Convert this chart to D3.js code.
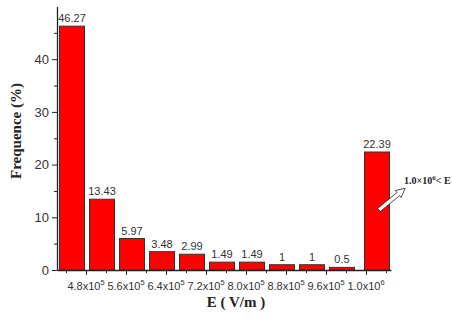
<!DOCTYPE html>
<html>
<head>
<meta charset="utf-8">
<script src="https://cdn.jsdelivr.net/npm/d3@7/dist/d3.min.js"></script>
<style>
  html, body { margin: 0; padding: 0; background: #fff; }
  svg { display: block; }
</style>
</head>
<body>
<svg id="chart" width="452" height="320"></svg>
<script>
// Field-strength bins (centre of each bin, in 10^5 V/m) and their share in percent
const binCenters = [4.52, 5.12, 5.72, 6.32, 6.92, 7.52, 8.12, 8.72, 9.32, 9.92, 10.62];
const frequence = [46.27, 13.43, 5.97, 3.48, 2.99, 1.49, 1.49, 1, 1, 0.5, 22.39];
const valueLabels = ["46.27", "13.43", "5.97", "3.48", "2.99", "1.49", "1.49", "1", "1", "0.5", "22.39"];

// Bottom axis labels: mantissa x 10^exponent
const xTickValues = [4.8, 5.6, 6.4, 7.2, 8.0, 8.8, 9.6, 10.4];
const xTickMantissa = ["4.8", "5.6", "6.4", "7.2", "8.0", "8.8", "9.6", "1.0"];
const xTickExponent = ["5", "5", "5", "5", "5", "5", "5", "6"];
const xMinorTicks = [4.4, 5.2, 6.0, 6.8, 7.6, 8.4, 9.2, 10.0, 10.8];

const yTickValues = [0, 10, 20, 30, 40];
const yMinorTicks = [5, 15, 25, 35, 45];

const svg = d3.select("#chart");

const x = d3.scaleLinear().domain([4.22, 10.9]).range([57, 391]);
const y = d3.scaleLinear().domain([0, 50]).range([270, 6.5]);
const binWidth = 0.5;

const axisColor = "#222";
const textColor = "#333";

// Bars
svg.append("g")
  .selectAll("rect")
  .data(frequence)
  .join("rect")
  .attr("x", (d, i) => x(binCenters[i] - binWidth / 2))
  .attr("width", (d, i) => x(binCenters[i] + binWidth / 2) - x(binCenters[i] - binWidth / 2))
  .attr("y", d => y(d))
  .attr("height", d => y(0) - y(d))
  .attr("fill", "#ff0000")
  .attr("stroke", "#333")
  .attr("stroke-width", 1);

// Value labels above the bars
svg.append("g")
  .selectAll("text")
  .data(frequence)
  .join("text")
  .attr("x", (d, i) => x(binCenters[i]))
  .attr("y", d => y(d) - 4)
  .attr("text-anchor", "middle")
  .attr("font-family", "Liberation Sans, Arial, sans-serif")
  .attr("font-size", 11)
  .attr("fill", textColor)
  .text((d, i) => valueLabels[i]);

// Y axis
const yAxis = svg.append("g")
  .attr("transform", `translate(${x.range()[0]},0)`)
  .call(d3.axisLeft(y).tickValues(yTickValues).tickSize(5).tickSizeOuter(0).tickPadding(3));
yAxis.select(".domain").attr("stroke", axisColor).attr("stroke-width", 1.3);
yAxis.selectAll(".tick line").attr("stroke", axisColor);
yAxis.selectAll(".tick text")
  .attr("font-family", "Liberation Sans, Arial, sans-serif")
  .attr("font-size", 13)
  .attr("fill", textColor);

const yMinor = svg.append("g")
  .attr("transform", `translate(${x.range()[0]},0)`)
  .call(d3.axisLeft(y).tickValues(yMinorTicks).tickSize(3).tickFormat(""));
yMinor.select(".domain").remove();
yMinor.selectAll(".tick line").attr("stroke", axisColor);

// X axis
const xAxis = svg.append("g")
  .attr("transform", `translate(0,${y(0)})`)
  .call(d3.axisBottom(x).tickValues(xTickValues).tickSize(5).tickSizeOuter(0).tickPadding(9).tickFormat(""));
xAxis.select(".domain").attr("stroke", axisColor).attr("stroke-width", 1.3);
xAxis.selectAll(".tick line").attr("stroke", axisColor);

const xMinor = svg.append("g")
  .attr("transform", `translate(0,${y(0)})`)
  .call(d3.axisBottom(x).tickValues(xMinorTicks).tickSize(3).tickFormat(""));
xMinor.select(".domain").remove();
xMinor.selectAll(".tick line").attr("stroke", axisColor);

// Tick labels with superscript exponents
const xLabels = svg.append("g")
  .selectAll("text")
  .data(xTickValues)
  .join("text")
  .attr("x", d => x(d))
  .attr("y", y(0) + 20)
  .attr("text-anchor", "middle")
  .attr("font-family", "Liberation Sans, Arial, sans-serif")
  .attr("font-size", 11)
  .attr("fill", textColor);
xLabels.append("tspan").text((d, i) => xTickMantissa[i] + "x10");
xLabels.append("tspan")
  .attr("dy", -5)
  .attr("font-size", 7.5)
  .text((d, i) => xTickExponent[i]);

// Axis titles
svg.append("text")
  .attr("transform", `translate(21,131) rotate(-90)`)
  .attr("text-anchor", "middle")
  .attr("font-family", "Liberation Serif, 'Times New Roman', serif")
  .attr("font-weight", "bold")
  .attr("font-size", 15)
  .attr("fill", "#222")
  .text("Frequence (%)");

svg.append("text")
  .attr("x", 236)
  .attr("y", 307)
  .attr("text-anchor", "middle")
  .attr("font-family", "Liberation Serif, 'Times New Roman', serif")
  .attr("font-weight", "bold")
  .attr("font-size", 15)
  .attr("fill", "#222")
  .text("E ( V/m )");

// Annotation for the open-ended last bin: hollow arrow plus note
const tailX = x(binCenters[10]) + 2;
const tailY = y(11.4);
const arrow = svg.append("g")
  .attr("transform", `translate(${tailX},${tailY}) rotate(-39.5)`);
arrow.append("path")
  .attr("d", "M0,-2 L25,-2 L25,-4.5 L34,0 L25,4.5 L25,2 L0,2 Z")
  .attr("fill", "#fff")
  .attr("stroke", "#333")
  .attr("stroke-width", 0.8);

const note = svg.append("text")
  .attr("x", 404)
  .attr("y", 184)
  .attr("font-family", "Liberation Serif, 'Times New Roman', serif")
  .attr("font-weight", "bold")
  .attr("font-size", 10)
  .attr("fill", "#222");
note.append("tspan").text("1.0\u00d710");
note.append("tspan").attr("dy", -4).attr("font-size", 7).text("6");
note.append("tspan").attr("dy", 4).text("< E");
</script>
</body>
</html>
